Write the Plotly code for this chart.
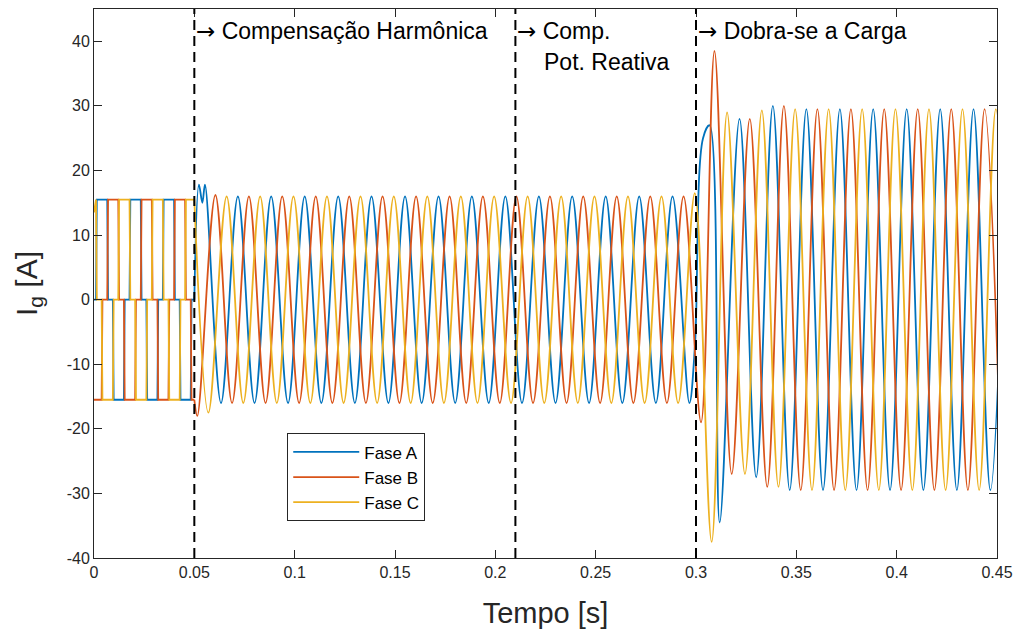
import plotly.graph_objects as go

# ---------------- data ----------------
# Segment 1 (0 - 0.05 s): rectifier-type quasi-square currents
A_sq_t = [0.0, 0.0010, 0.0014, 0.0066, 0.0070, 0.0094, 0.0098, 0.0149, 0.0153,
          0.0177, 0.0181, 0.0233, 0.0237, 0.0261, 0.0265, 0.0316, 0.0320,
          0.0343, 0.0347, 0.0399, 0.0403, 0.0427, 0.0431, 0.0482, 0.0486, 0.0500]
A_sq_v = [0, 0, 15.5, 15.5, 0, 0, -15.5, -15.5, 0,
          0, 15.5, 15.5, 0, 0, -15.5, -15.5, 0,
          0, 15.5, 15.5, 0, 0, -15.5, -15.5, 0, 0]

B_sq_t = [0.0, 0.0038, 0.0042, 0.0066, 0.0070, 0.0121, 0.0125, 0.0149, 0.0153,
          0.0205, 0.0209, 0.0233, 0.0237, 0.0288, 0.0292, 0.0316, 0.0320,
          0.0371, 0.0375, 0.0399, 0.0403, 0.0454, 0.0458, 0.0482, 0.0486, 0.0500]
B_sq_v = [-15.5, -15.5, 0, 0, 15.5, 15.5, 0, 0, -15.5,
          -15.5, 0, 0, 15.5, 15.5, 0, 0, -15.5,
          -15.5, 0, 0, 15.5, 15.5, 0, 0, -15.5, -15.5]

C_sq_t = [0.0, 0.0010, 0.0014, 0.0038, 0.0042, 0.0094, 0.0098, 0.0121, 0.0125,
          0.0177, 0.0181, 0.0205, 0.0209, 0.0261, 0.0265, 0.0288, 0.0292,
          0.0343, 0.0347, 0.0371, 0.0375, 0.0427, 0.0431, 0.0454, 0.0458, 0.0500]
C_sq_v = [13.5, 15.5, 0, 0, -15.5, -15.5, 0, 0, 15.5,
          15.5, 0, 0, -15.5, -15.5, 0, 0, 15.5,
          15.5, 0, 0, -15.5, -15.5, 0, 0, 15.5, 15.5]

# Segments 2-4 (0.05 - 0.45 s): extrema (peaks / troughs) of each phase current
A_t = [0.0500, 0.0523, 0.0540, 0.0553, 0.0633, 0.0717, 0.0800, 0.0883, 0.0967,
       0.1050, 0.1133, 0.1217, 0.1300, 0.1383, 0.1467, 0.1550, 0.1633, 0.1717,
       0.1800, 0.1883, 0.1967, 0.2050, 0.2133, 0.2217, 0.2300, 0.2383, 0.2467,
       0.2550, 0.2633, 0.2717, 0.2800, 0.2883, 0.2967, 0.2995, 0.3035, 0.3068,
       0.3118, 0.3217, 0.3300, 0.3383, 0.3467, 0.3550, 0.3633, 0.3717, 0.3800,
       0.3883, 0.3967, 0.4050, 0.4133, 0.4217, 0.4300, 0.4383, 0.4467, 0.4550]
A_v = [0, 17.8, 15.0, 17.8, -16, 16, -16, 16, -16,
       16, -16, 16, -16, 16, -16, 16, -16, 16,
       -16, 16, -16, 16, -16, 16, -16, 16, -16,
       16, -16, 16, -16, 16, -16, -7, 25, 27,
       -34.5, 28, -27.5, 30, -29.5, 29.5, -29.5, 29.5, -29.5,
       29.5, -29.5, 29.5, -29.5, 29.5, -29.5, 29.5, -29.5, 29.5]

B_t = [0.0500, 0.0515, 0.0605, 0.0688, 0.0772, 0.0855, 0.0938, 0.1022, 0.1105,
       0.1188, 0.1272, 0.1355, 0.1438, 0.1522, 0.1605, 0.1688, 0.1772, 0.1855,
       0.1938, 0.2022, 0.2105, 0.2188, 0.2272, 0.2355, 0.2438, 0.2522, 0.2605,
       0.2688, 0.2772, 0.2855, 0.2938, 0.3025, 0.3092, 0.3178, 0.3268, 0.3355,
       0.3438, 0.3522, 0.3605, 0.3688, 0.3772, 0.3855, 0.3938, 0.4022, 0.4105,
       0.4188, 0.4272, 0.4355, 0.4438, 0.4522]
B_v = [-15.5, -18, 16.2, -16, 16, -16, 16, -16, 16,
       -16, 16, -16, 16, -16, 16, -16, 16, -16,
       16, -16, 16, -16, 16, -16, 16, -16, 16,
       -16, 16, -16, 16, -19, 38.5, -27, 28, -29,
       30, -29.5, 29.5, -29.5, 29.5, -29.5, 29.5, -29.5, 29.5,
       -29.5, 29.5, -29.5, 29.5, -29.5]

C_t = [0.0500, 0.0570, 0.0661, 0.0744, 0.0828, 0.0911, 0.0994, 0.1078, 0.1161,
       0.1244, 0.1328, 0.1411, 0.1494, 0.1578, 0.1661, 0.1744, 0.1828, 0.1911,
       0.1994, 0.2078, 0.2161, 0.2244, 0.2328, 0.2411, 0.2494, 0.2578, 0.2661,
       0.2744, 0.2828, 0.2911, 0.2994, 0.3078, 0.3155, 0.3244, 0.3328, 0.3411,
       0.3494, 0.3578, 0.3661, 0.3744, 0.3828, 0.3911, 0.3994, 0.4078, 0.4161,
       0.4244, 0.4328, 0.4411, 0.4494, 0.4578]
C_v = [15.5, -17.5, 16, -16, 16, -16, 16, -16, 16,
       -16, 16, -16, 16, -16, 16, -16, 16, -16,
       16, -16, 16, -16, 16, -16, 16, -16, 16,
       -16, 16, -16, 16.5, -37.5, 29, -27, 29.3, -29,
       29.5, -29.5, 29.5, -29.5, 29.5, -29.5, 29.5, -29.5, 29.5,
       -29.5, 29.5, -29.5, 29.5, -29.5]

phase_names = ["Fase A", "Fase B", "Fase C"]
phase_colors = ["#0072BD", "#D95319", "#EDB120"]

event_times = [0.05, 0.21, 0.3]

x_tick_vals = [0, 0.05, 0.1, 0.15, 0.2, 0.25, 0.3, 0.35, 0.4, 0.45]
x_tick_text = ["0", "0.05", "0.1", "0.15", "0.2", "0.25", "0.3", "0.35", "0.4", "0.45"]
y_tick_vals = [-40, -30, -20, -10, 0, 10, 20, 30, 40]
y_tick_text = ["-40", "-30", "-20", "-10", "0", "10", "20", "30", "40"]

# ---------------- figure ----------------
FONT = "Liberation Sans, Arial, Helvetica, sans-serif"
ARROW = '<span style="font-family:DejaVu Sans">\u2192</span>'
fig = go.Figure()

sq = [(A_sq_t, A_sq_v), (B_sq_t, B_sq_v), (C_sq_t, C_sq_v)]
sn = [(A_t, A_v), (B_t, B_v), (C_t, C_v)]

for i in range(3):
    fig.add_trace(go.Scatter(
        x=sq[i][0], y=sq[i][1], mode="lines", name=phase_names[i],
        legendgroup=phase_names[i], showlegend=False,
        line=dict(color=phase_colors[i], width=1.8)))
    fig.add_trace(go.Scatter(
        x=sn[i][0], y=sn[i][1], mode="lines", name=phase_names[i],
        legendgroup=phase_names[i], showlegend=True,
        line=dict(color=phase_colors[i], width=1.8, shape="spline", smoothing=1)))

for t in event_times:
    fig.add_shape(type="line", xref="x", yref="paper", x0=t, x1=t, y0=0, y1=1,
                  line=dict(color="black", width=2, dash="10px,6px"), layer="above")

ann_font = dict(family=FONT, size=23, color="black")
fig.add_annotation(x=0.05, y=41.6, xref="x", yref="y", text=ARROW + " Compensa\u00e7\u00e3o Harm\u00f4nica",
                   showarrow=False, xanchor="left", yanchor="middle", font=ann_font)
fig.add_annotation(x=0.21, y=41.6, xref="x", yref="y", text=ARROW + " Comp.",
                   showarrow=False, xanchor="left", yanchor="middle", font=ann_font)
fig.add_annotation(x=0.2235, y=36.8, xref="x", yref="y", text="Pot. Reativa",
                   showarrow=False, xanchor="left", yanchor="middle", font=ann_font)
fig.add_annotation(x=0.3, y=41.6, xref="x", yref="y", text=ARROW + " Dobra-se a Carga",
                   showarrow=False, xanchor="left", yanchor="middle", font=ann_font)

axis_common = dict(showline=True, linecolor="#262626", linewidth=1, mirror="allticks",
                   ticks="inside", ticklen=8, tickwidth=1, tickcolor="#262626",
                   showgrid=False, zeroline=False,
                   tickfont=dict(family=FONT, size=16, color="#262626"))

fig.update_xaxes(range=[0, 0.45], tickvals=x_tick_vals, ticktext=x_tick_text,
                 title=dict(text="Tempo [s]", font=dict(family=FONT, size=29, color="#262626"),
                            standoff=22),
                 **axis_common)
fig.update_yaxes(range=[-40, 45], tickvals=y_tick_vals, ticktext=y_tick_text,
                 title=dict(text="I<sub>g</sub> [A]", font=dict(family=FONT, size=30, color="#262626"),
                            standoff=20),
                 **axis_common)

fig.update_layout(
    width=1021, height=632,
    margin=dict(l=94, r=21, t=8, b=73),
    plot_bgcolor="white", paper_bgcolor="white",
    font=dict(family=FONT, color="#262626"),
    legend=dict(x=0.214, y=0.227, xanchor="left", yanchor="top",
                bgcolor="white", bordercolor="#262626", borderwidth=1,
                font=dict(family=FONT, size=17, color="black"),
                tracegroupgap=0, itemwidth=66),
)

fig.write_html("out.html")
